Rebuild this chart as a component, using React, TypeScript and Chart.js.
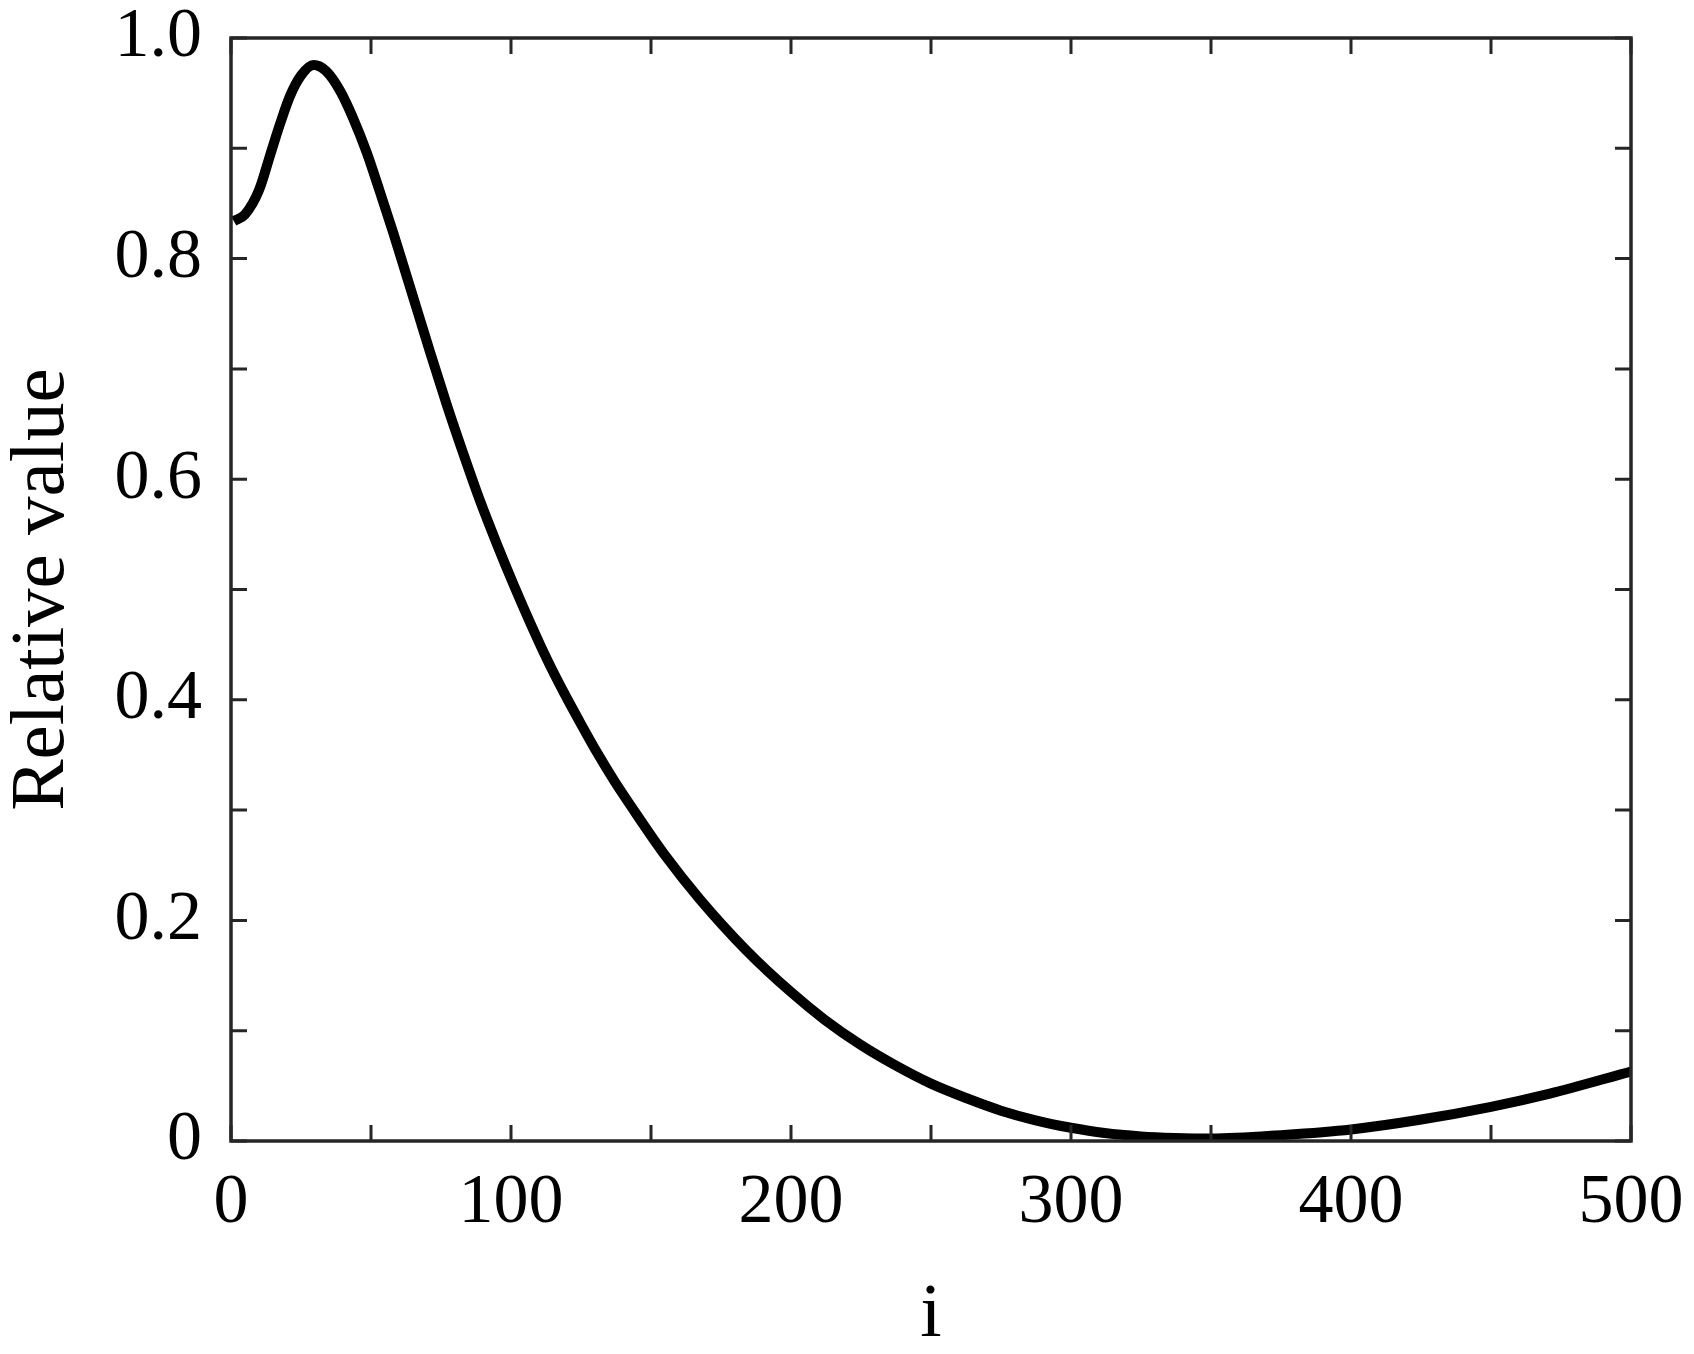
import React, { useEffect, useRef } from "react";
import { Chart, registerables } from "chart.js";

Chart.register(...registerables);

// ---- data ----
const iValues = [1, 5, 10, 14, 17.5, 21, 25, 29.5, 34, 39, 43.5, 48.5, 53, 58, 63, 67, 71, 77, 83, 89, 95, 101, 107, 113, 119, 125, 131, 137, 143, 155, 167.5, 184, 200, 212, 225, 237, 250, 263, 275, 287, 300, 312, 325, 337, 350, 376, 400, 424, 450, 471, 500];
const relValues = [0.834, 0.840, 0.862, 0.894, 0.922, 0.947, 0.966, 0.9755, 0.970, 0.952, 0.928, 0.896, 0.862, 0.823, 0.782, 0.749, 0.716, 0.668, 0.623, 0.580, 0.541, 0.504, 0.469, 0.436, 0.406, 0.378, 0.351, 0.326, 0.303, 0.259, 0.219, 0.173, 0.135, 0.110, 0.087, 0.069, 0.052, 0.0385, 0.0275, 0.019, 0.012, 0.0072, 0.0042, 0.0028, 0.0022, 0.0055, 0.0105, 0.019, 0.031, 0.043, 0.063];

const xMajorTicks = [0, 100, 200, 300, 400, 500];
const xTickLabels = ["0", "100", "200", "300", "400", "500"];
const xMinorTicks = [50, 150, 250, 350, 450];
const yMajorTicks = [0, 0.2, 0.4, 0.6, 0.8, 1.0];
const yTickLabels = ["0", "0.2", "0.4", "0.6", "0.8", "1.0"];
const yMinorTicks = [0.1, 0.3, 0.5, 0.7, 0.9];

const xTitle = "i";
const yTitle = "Relative value";

const FONT = '"Liberation Serif", "Times New Roman", serif';
const AXIS_COLOR = "#262626";

const framePlugin = {
  id: "matlabFrame",
  afterDatasetsDraw(chart: any) {
    const { ctx, chartArea, scales } = chart;
    const { left, right, top, bottom } = chartArea;
    const xs = scales.x;
    const ys = scales.y;
    const tl = 16;
    ctx.save();
    ctx.strokeStyle = AXIS_COLOR;
    ctx.lineWidth = 3;
    ctx.lineCap = "butt";
    ctx.beginPath();
    [...xMajorTicks, ...xMinorTicks].forEach((v) => {
      const px = xs.getPixelForValue(v);
      ctx.moveTo(px, bottom);
      ctx.lineTo(px, bottom - tl);
      ctx.moveTo(px, top);
      ctx.lineTo(px, top + tl);
    });
    [...yMajorTicks, ...yMinorTicks].forEach((v) => {
      const py = ys.getPixelForValue(v);
      ctx.moveTo(left, py);
      ctx.lineTo(left + tl, py);
      ctx.moveTo(right, py);
      ctx.lineTo(right - tl, py);
    });
    ctx.stroke();
    ctx.lineWidth = 3.5;
    ctx.lineJoin = "miter";
    ctx.strokeRect(left, top, right - left, bottom - top);
    ctx.restore();
  },
};

export default function App() {
  const canvasRef = useRef<HTMLCanvasElement | null>(null);

  useEffect(() => {
    if (!canvasRef.current) return;
    const points = iValues.map((x, k) => ({ x, y: relValues[k] }));
    const chart = new Chart(canvasRef.current, {
      type: "line",
      data: {
        datasets: [
          {
            data: points,
            borderColor: "#000000",
            borderWidth: 10,
            pointRadius: 0,
            fill: false,
            cubicInterpolationMode: "monotone",
            borderCapStyle: "butt",
            borderJoinStyle: "round",
            clip: 0,
          } as any,
        ],
      },
      options: {
        responsive: false,
        animation: false,
        devicePixelRatio: 1,
        layout: { padding: { left: 0, top: 38, right: 63, bottom: 0 } },
        plugins: { legend: { display: false }, tooltip: { enabled: false } },
        events: [],
        scales: {
          x: {
            type: "linear",
            min: 0,
            max: 500,
            grid: { display: false, drawTicks: false },
            border: { display: false },
            afterBuildTicks: (scale: any) => {
              scale.ticks = xMajorTicks.map((v) => ({ value: v }));
            },
            afterFit: (scale: any) => {
              scale.height = 213;
              scale.paddingLeft = 0;
              scale.paddingRight = 0;
            },
            ticks: {
              padding: 28,
              maxRotation: 0,
              autoSkip: false,
              color: "#000",
              font: { family: FONT, size: 70, lineHeight: 1 },
              callback: (_v: any, idx: number) => xTickLabels[idx],
            },
            title: {
              display: true,
              text: xTitle,
              color: "#000",
              font: { family: FONT, size: 77, lineHeight: 1 },
              padding: { top: 0, bottom: 0 },
            },
          },
          y: {
            type: "linear",
            min: 0,
            max: 1,
            grid: { display: false, drawTicks: false },
            border: { display: false },
            afterBuildTicks: (scale: any) => {
              scale.ticks = yMajorTicks.map((v) => ({ value: v }));
            },
            afterFit: (scale: any) => {
              scale.width = 231;
              scale.paddingTop = 0;
              scale.paddingBottom = 0;
            },
            ticks: {
              padding: 29,
              autoSkip: false,
              color: "#000",
              font: { family: FONT, size: 70, lineHeight: 1 },
              callback: (_v: any, idx: number) => yTickLabels[idx],
            },
            title: {
              display: true,
              text: yTitle,
              color: "#000",
              font: { family: FONT, size: 77, lineHeight: 1 },
              padding: { top: 4, bottom: 0 },
            },
          },
        },
      },
      plugins: [framePlugin],
    });
    return () => chart.destroy();
  }, []);

  return (
    <div style={{ position: "absolute", left: 0, top: 0, width: 1694, height: 1354, background: "#fff" }}>
      <canvas ref={canvasRef} width={1694} height={1354} style={{ width: 1694, height: 1354, display: "block" }} />
    </div>
  );
}
